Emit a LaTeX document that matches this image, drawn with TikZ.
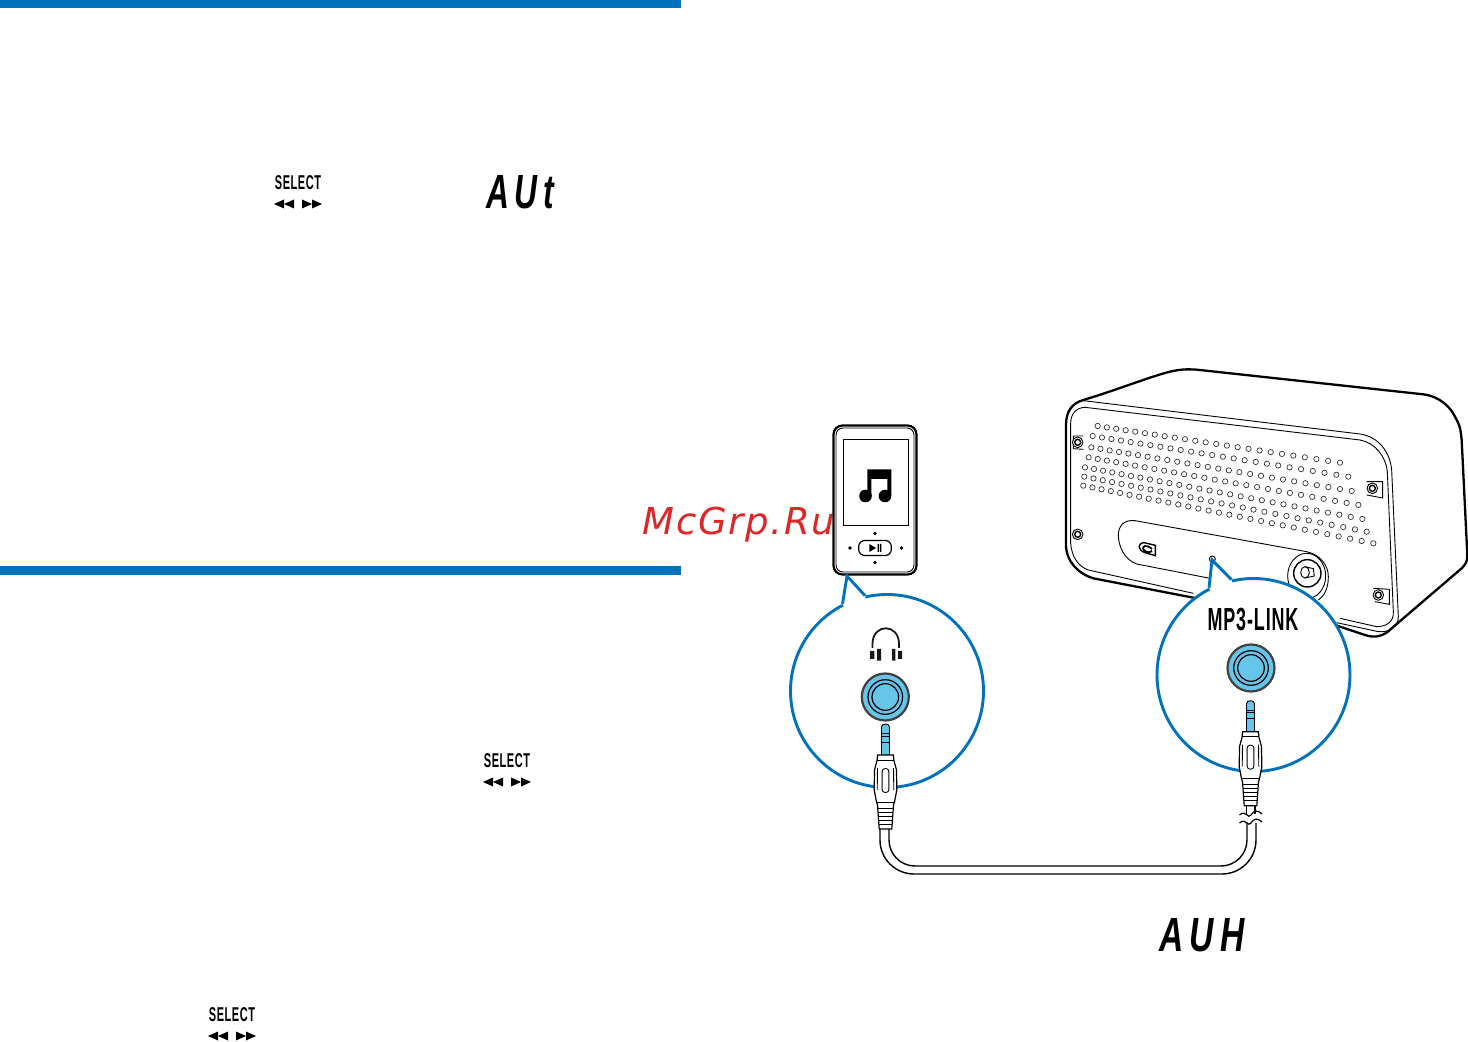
\documentclass[tikz,border=0pt]{standalone}
\usepackage{graphicx}
\usepackage{fontspec}
\setmainfont{Liberation Sans}
\newfontfamily\markfont[LetterSpace=4.7]{DejaVu Sans}
\newfontfamily\lcdfont[LetterSpace=18]{Liberation Sans}
\newfontfamily\keyfont[LetterSpace=5]{Liberation Sans}
\usetikzlibrary{positioning}

\definecolor{barblue}{RGB}{0,114,188}
\definecolor{jackblue}{RGB}{103,197,234}
\definecolor{markred}{RGB}{221,38,38}

\tikzset{
    thinline/.style={line width=0.45pt,black},
    heavyline/.style={line width=1.15pt,black},
    callout/.style={circle,draw=barblue,line width=1.45pt,fill=white,minimum size=96.5pt,inner sep=0pt},
    tailline/.style={draw=barblue,line width=1.45pt,line join=miter},
    lcdtext/.style={inner sep=0pt,font=\lcdfont\bfseries\itshape\fontsize{24}{24}\selectfont},
    selectkey/.pic={
        \node[inner sep=0pt,font=\keyfont\bfseries\fontsize{10}{10}\selectfont] (-label) at (0,0) {\scalebox{0.55}[1]{SELECT}};
        \fill (-24,21) -- (-14,16.5) -- (-14,25.5) -- cycle;
        \fill (-14,21) -- (-4,16.5) -- (-4,25.5) -- cycle;
        \fill (24,21) -- (14,16.5) -- (14,25.5) -- cycle;
        \fill (14,21) -- (4,16.5) -- (4,25.5) -- cycle;
    },
    jacksocket/.pic={
        \draw[line width=1.1pt,draw=black!75,fill=jackblue] (0,0) circle[radius=23.5];
        \draw[thinline,line width=0.6pt] (0,0) circle[radius=17.3];
        \draw[thinline,line width=0.6pt] (0,0) circle[radius=13.3];
    },
    plugjack/.pic={
        \draw[thinline,fill=jackblue] (-4,31) -- (-4,3) .. controls (-4,-1) and (4,-1) .. (4,3) -- (4,31) -- cycle;
        \draw[thinline] (-4,9.5) -- (4,9.5) (-4,12) -- (4,12) (-4,18) -- (4,18);
        \draw[thinline,line width=0.6pt,fill=white] (-8,31) -- (-8.3,36) -- (-11,46) -- (-11.3,66) -- (-9,78) -- (-8,81)
            -- (-6.3,105) -- (6.3,105) -- (8,81) -- (9,78) -- (11.3,66) -- (11,46) -- (8.3,36) -- (8,31) -- cycle;
        \draw[thinline] (-8.3,36) -- (8.3,36) (-9,78) -- (9,78);
        \draw[thinline] (-8,44) -- (-8.3,66) (8,44) -- (8.3,66);
        \draw[thinline,rounded corners=1.5pt] (-3.4,44.5) rectangle (3.4,68.5);
        \foreach \ridgey/\ridgex in {84/7.8,88/7.5,92/7.2,96/7,100/6.7}
            \draw[thinline,line width=0.4pt] (-\ridgex,\ridgey) -- (\ridgex,\ridgey);
    },
    screwpost/.pic={
        \draw[thinline,fill=white] (0,0) circle[radius=5.3];
        \draw[thinline,line width=0.7pt] (0,0) circle[radius=3];
    }
}

\begin{document}
\begin{tikzpicture}[x=0.5pt,y=-0.5pt]
    \useasboundingbox (0,0) rectangle (1468,1042);

    \fill[barblue] (0,0) rectangle (681,8);
    \fill[barblue] (0,566) rectangle (681,575);

    \pic (selecta) at (298,183) {selectkey};
    \pic (selectb) at (507,761) {selectkey};
    \pic (selectc) at (232,1015) {selectkey};
    \node[lcdtext] (lcdaut) at (520,192.5) {\scalebox{0.66}[1]{AUt}};
    \node[lcdtext] (lcdauh) at (1202,935) {\scalebox{0.7}[1]{AUH}};

    \node[anchor=base west,inner sep=0pt,text=markred,font=\markfont\itshape\fontsize{18.5}{18.5}\selectfont] (watermark) at (642,535) {McGrp.Ru};

    \begin{scope}[shift={(1050,360)},scale=1/3]
        \draw[heavyline,line join=round] (100,120) .. controls (200,90) and (300,50) .. (360,35)
            .. controls (390,28) and (410,27) .. (440,29) -- (1120,103)
            .. controls (1170,110) and (1200,140) .. (1215,170)
            .. controls (1235,205) and (1232,220) .. (1235,240) -- (1252,585)
            .. controls (1253,605) and (1245,615) .. (1235,625) -- (1025,805)
            .. controls (1000,830) and (975,835) .. (945,825) -- (855,795) -- (440,715) -- (130,655)
            .. controls (80,640) and (50,600) .. (48,560) -- (48,195)
            .. controls (48,155) and (65,130) .. (100,120);
        \draw[thinline] (100,122) -- (930,222) .. controls (985,230) and (1020,275) .. (1025,330)
            -- (1045,770) .. controls (1045,800) and (1020,818) .. (985,815) -- (860,788);
        \draw[thinline] (105,142) -- (930,240) .. controls (975,248) and (1008,290) .. (1012,335)
            -- (1030,755) .. controls (1032,785) and (1010,800) .. (980,800) -- (870,775);
        \draw[thinline] (105,142) .. controls (80,143) and (62,160) .. (62,190) -- (62,550)
            .. controls (65,590) and (85,620) .. (115,630) -- (430,700);
        \draw[thinline] (255,482) -- (770,575) .. controls (810,584) and (835,615) .. (835,650) .. controls (835,690) and (820,710) .. (805,720);
        \draw[thinline] (480,655) -- (260,612) .. controls (225,600) and (205,560) .. (205,525)
            .. controls (205,500) and (220,478) .. (255,482);

        \foreach \rowxa/\rowya/\rowxb/\rowyb/\rowsteps in {143/198/870/308/23,128/228/895/350/24,124/262/905/393/25,
            116/292/925/435/26,105/322/937/477/27,103/350/950/515/27,100/377/970/550/28}
            \foreach \dotstep in {0,...,\rowsteps} {
                \pgfmathsetmacro{\dotpos}{\dotstep/\rowsteps*(0.87+0.13*\dotstep/\rowsteps)}
                \draw[line width=0.35pt,draw=black!80] ({\rowxa+(\rowxb-\rowxa)*\dotpos},{\rowya+(\rowyb-\rowya)*\dotpos}) circle[radius=8];
            }

        \draw[thinline] (100,228) -- (70,228) -- (70,266) -- (100,268);
        \draw[thinline] (950,365) -- (998,365) -- (998,414) -- (950,405);
        \draw[thinline] (970,685) -- (1018,688) -- (1018,733) -- (975,725);
        \pic at (83,247) {screwpost};
        \pic at (83,523) {screwpost};
        \pic at (967,385) {screwpost};
        \pic at (985,705) {screwpost};

        \draw[thinline] (770,648) circle[x radius=57,y radius=68];
        \draw[thinline,line width=0.7pt] (772,640) circle[radius=41];
        \draw[thinline] (765,637) ellipse[x radius=13,y radius=17];
        \draw[thinline] (765,620) -- (790,626) -- (793,648) -- (765,654);
        \draw[thinline,fill=white] (487,597) circle[radius=9];
        \fill[black!70] (487,597) circle[radius=4];
        \draw[thinline,line width=0.7pt] (282,548) -- (316,556) -- (316,587) -- (285,578)
            .. controls (262,570) and (262,550) .. (282,548);
        \draw[thinline,line width=0.9pt] (306,567) .. controls (290,552) and (275,558) .. (280,568) .. controls (285,578) and (300,578) .. (306,573);
    \end{scope}

    \node[draw,fill=white,line width=1.1pt,rounded corners=4.5pt,minimum width=41.5pt,minimum height=74.5pt,inner sep=0pt] (player) at (875,500) {};
    \node[thinline,draw,rounded corners=3.5pt,minimum width=39pt,minimum height=72pt,inner sep=0pt] (playerrim) at (player.center) {};
    \node[thinline,draw,minimum width=32.5pt,minimum height=43pt,inner sep=0pt] (screen) at (875.5,482) {};
    \node[thinline,draw,line width=0.6pt,rounded corners=3pt,minimum width=16.3pt,minimum height=7.5pt,inner sep=0pt] (playkey) at (875,548) {};
    \fill (869.3,544) -- (876,548) -- (869.3,552) -- cycle;
    \fill (877.6,544) rectangle (879,552) (880,544) rectangle (881.4,552);
    \foreach \dotx/\doty in {875/533.5,875/562.5,850/548,901.5/548}
        \draw[thinline,fill=black!60] (\dotx,\doty) circle[radius=1.3];
    \fill (865.5,496) circle[radius=6.3] (885,496) circle[radius=6.3];
    \fill (867.3,496) -- (867.3,469.3) -- (891.3,469.3) -- (891.3,496) -- (887.3,496) -- (887.3,479) -- (871.3,479) -- (871.3,496) -- cycle;

    \node[callout] (phonecircle) at (887,691) {};
    \node[callout] (linkcircle) at (1253.5,675) {};
    \coordinate (phonetip) at (847,576);
    \coordinate (linktip) at (1212,560);
    \fill[white] (phonecircle.117) -- (phonetip) -- (phonecircle.103) -- (phonecircle.center) -- cycle;
    \fill[white] (linkcircle.117) -- (linktip) -- (linkcircle.103) -- (linkcircle.center) -- cycle;
    \draw[tailline] (phonecircle.117) -- (phonetip) -- (phonecircle.103);
    \draw[tailline] (linkcircle.117) -- (linktip) -- (linkcircle.103);

    \node[inner sep=0pt,font=\keyfont\bfseries\fontsize{16}{16}\selectfont] (linklabel) at (1253,620) {\scalebox{0.56}[1]{MP3-LINK}};

    \draw[line width=0.9pt,black!90] (872.5,648) -- (872.5,644) .. controls (872.5,623) and (899,623) .. (899,644) -- (899,648);
    \fill[black!90] (870,651) rectangle (874.3,659) (877,649) rectangle (881,660.7);
    \fill[black!90] (892,649) rectangle (895.3,660.7) (898,651) rectangle (902,659);

    \pic at (885.3,697) {jacksocket};
    \pic at (1251,668) {jacksocket};
    \pic at (885.5,724) {plugjack};
    \pic at (1250.5,700.7) {plugjack};

    \coordinate (cableao) at (880,829);
    \coordinate (cableai) at (889,829);
    \coordinate (cablebo) at (1256,823);
    \coordinate (cablebi) at (1247,823);
    \coordinate (cableco) at (1255,806);
    \coordinate (cableci) at (1246.5,806);
    \coordinate (cablelow) at (1000,874);
    \coordinate (cableup) at (1000,866);
    \draw[thinline,line width=0.7pt,rounded corners=17pt] (cableao) -- (cableao |- cablelow) -- (cablebo |- cablelow) -- (cablebo);
    \draw[thinline,line width=0.7pt,rounded corners=13pt] (cableai) -- (cableai |- cableup) -- (cablebi |- cableup) -- (cablebi);
    \draw[thinline,line width=0.6pt] (cableco) -- +(0,8) (cableci) -- +(0,8);
    \draw[thinline,line width=0.6pt] (1239.5,815) .. controls (1246,809) and (1248,820) .. (1251,815) .. controls (1254,810) and (1258,810) .. (1262,814);
    \draw[thinline,line width=0.6pt] (1239.5,823) .. controls (1246,817) and (1248,828) .. (1251,823) .. controls (1254,818) and (1258,818) .. (1262,822);
\end{tikzpicture}
\end{document}
